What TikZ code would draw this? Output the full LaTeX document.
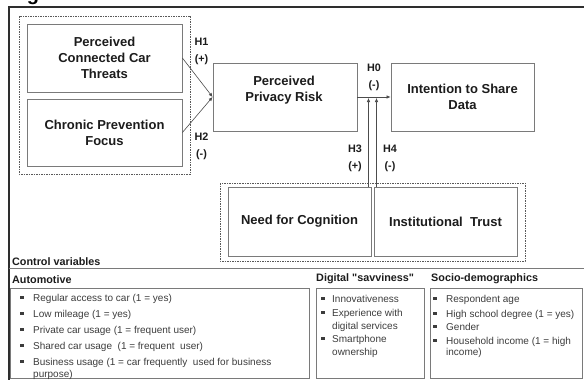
\documentclass[tikz,border=0pt]{standalone}
\usepackage{fontspec}
\setmainfont{Liberation Sans}
\usetikzlibrary{arrows.meta,calc}
\definecolor{boxgray}{HTML}{7A7A7A}
\definecolor{txtdark}{HTML}{1C1C1C}
\definecolor{ctxt}{HTML}{3C3C3C}
\definecolor{framec}{HTML}{2E2E2E}
\newcommand\straightdq{\XeTeXglyph\XeTeXglyphindex "quotedbl"\relax}
\begin{document}
\begin{tikzpicture}[x=1pt,y=-1pt,
  box/.style={draw=boxgray, line width=0.8pt, fill=white, align=center,
    font=\fontsize{13}{15.8}\selectfont\bfseries, text=txtdark, inner sep=0pt},
  boxtext/.style={align=center, font=\fontsize{13}{15.8}\selectfont\bfseries, text=txtdark, inner sep=0pt},
  grp/.style={draw=black!65, line width=0.6pt, dash pattern=on 1.5pt off 1pt},
  hlab/.style={align=center, font=\fontsize{10.8}{17}\selectfont\bfseries, text=txtdark, inner sep=0pt},
  arr/.style={draw=black!70, line width=0.6pt, -{Latex[length=4pt,width=3.5pt]}},
  cbox/.style={draw=boxgray, line width=0.8pt},
  chead/.style={font=\fontsize{10.8}{13}\selectfont\bfseries, text=txtdark, inner sep=0pt, anchor=west},
  ctext/.style={font=\fontsize{10}{12}\selectfont, text=ctxt, inner sep=0pt, anchor=base west},
  bulletc/.style={fill=ctxt}
]
\useasboundingbox (0,0) rectangle (584,380);
\clip (0,0) rectangle (584,380);

% cut-off title
\node[anchor=base west, font=\fontsize{20}{24}\selectfont\bfseries, text=black, inner sep=0pt] (fig) at (9,0.5) {Fig};

% outer frame
\coordinate (fbl) at (9,390);
\coordinate (ftl) at (9,7);
\coordinate (ftr) at (590,7);
\draw[framec, line width=1.6pt] (fbl) -- (ftl) -- (ftr);

% dashed groups
\draw[grp] (19,16) rectangle (190,174);
\draw[grp] (220,183) rectangle (525,261);

% boxes
\node[box, minimum width=155, minimum height=68] (pct) at (104.5,58) {Perceived\\Connected Car\\Threats};
\node[box, minimum width=155, minimum height=67] (cpf) at (104.5,132.5) {Chronic Prevention\\Focus};
\node[box, minimum width=144, minimum height=68] (ppr) at (285,97) {};
\node[boxtext] (pprt) at (284,90) {Perceived\\Privacy Risk};
\node[box, minimum width=143, minimum height=68] (isd) at (462.5,97) {Intention to Share\\Data};
\node[box, minimum width=143, minimum height=69] (nfc) at (299.5,221.5) {Need for Cognition};
\node[box, minimum width=143, minimum height=69] (itr) at (445.5,221.5) {Institutional\ \ Trust};

% connectors
\draw[arr] (pct.east) -- (ppr.west);
\draw[arr] (cpf.east) -- (ppr.west);
\draw[arr] (ppr.east) -- (isd.west);
\coordinate (h3t) at (368.5,98);
\coordinate (h4t) at (376.5,98);
\draw[arr] (nfc.north -| h3t) -- (h3t);
\draw[arr] (itr.north -| h4t) -- (h4t);

% hypothesis labels
\node[hlab] (h1) at (201.5,51.5) {H1\\(+)};
\node[hlab] (h2) at (201.5,146) {H2\\(-)};
\node[hlab] (h0) at (374,77.5) {H0\\(-)};
\node[hlab] (h3) at (355,158) {H3\\(+)};
\node[hlab] (h4) at (390,158) {H4\\(-)};

% control variables
\node[chead] (cv) at (12,262) {Control variables};
\coordinate (cvl) at (9,268);
\coordinate (cvr) at (590,268);
\draw[boxgray, line width=0.9pt] (cvl) -- (cvr);

\node[chead] (auto) at (12,280) {Automotive};
\node[chead] (digi) at (316,279) {Digital \straightdq savviness\straightdq};
\node[chead] (socio) at (431,279) {Socio-demographics};

\draw[cbox] (10,288) rectangle (309,378);
\draw[cbox] (316,288) rectangle (424,378);
\draw[cbox] (430,288) rectangle (582,378);

% Automotive items
\node[ctext] (a1) at (33,301.5) {Regular access to car (1 = yes)};
\node[ctext] (a2) at (33,317.5) {Low mileage (1 = yes)};
\node[ctext] (a3) at (33,333.5) {Private car usage (1 = frequent user)};
\node[ctext] (a4) at (33,349.5) {Shared car usage\ \ (1 = frequent\ \ user)};
\node[ctext] (a5) at (33,365.5) {Business usage (1 = car frequently\ \ used for business};
\node[ctext] (a6) at (33,377.8) {purpose)};
\foreach \yy in {301.5,317.5,333.5,349.5,365.5}{
  \fill[bulletc] (20.4,\yy-5.4) rectangle (23.6,\yy-2.2);
}

% Digital items
\node[ctext] (d1) at (332,302.5) {Innovativeness};
\node[ctext] (d2) at (332,316.5) {Experience with};
\node[ctext] (d3) at (332,329.5) {digital services};
\node[ctext] (d4) at (332,342.5) {Smartphone};
\node[ctext] (d5) at (332,355.5) {ownership};
\foreach \yy in {302.5,316.5,342.5}{
  \fill[bulletc] (321.4,\yy-5.4) rectangle (324.6,\yy-2.2);
}

% Socio items
\node[ctext] (s1) at (446,302.5) {Respondent age};
\node[ctext] (s2) at (446,317.5) {High school degree (1 = yes)};
\node[ctext] (s3) at (446,330.5) {Gender};
\node[ctext] (s4) at (446,344.5) {Household income (1 = high};
\node[ctext] (s5) at (446,355.5) {income)};
\foreach \yy in {302.5,317.5,330.5,344.5}{
  \fill[bulletc] (433.4,\yy-5.4) rectangle (436.6,\yy-2.2);
}
\end{tikzpicture}
\end{document}
